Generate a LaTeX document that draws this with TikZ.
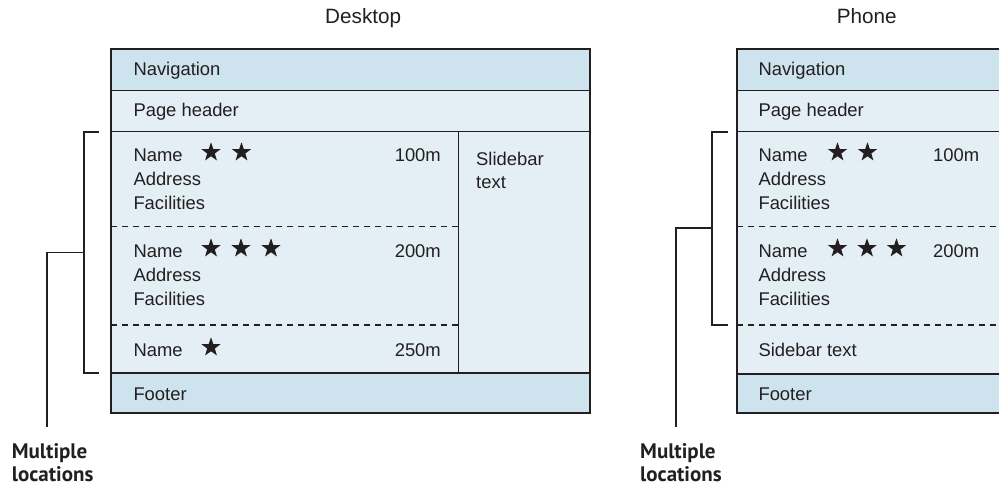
\documentclass[tikz,border=0pt]{standalone}
\usepackage{fontspec}
\setmainfont{Liberation Sans}
\newfontfamily\calloutfont{PT Sans}
\usetikzlibrary{shapes.geometric}
\definecolor{navblue}{RGB}{205,227,238}
\definecolor{bodyblue}{RGB}{227,238,245}
\definecolor{ink}{RGB}{35,31,32}
\begin{document}
\begin{tikzpicture}[x=1pt,y=-1pt,
  txt/.style={anchor=base west, inner sep=0pt, text=ink, font=\fontsize{18.4}{22}\selectfont},
  dist/.style={anchor=base east, inner sep=0pt, text=ink, font=\fontsize{18.4}{22}\selectfont},
  title/.style={anchor=base west, inner sep=0pt, text=ink, font=\fontsize{20.7}{24}\selectfont},
  callout/.style={anchor=base west, inner sep=0pt, text=ink, font=\calloutfont\bfseries\fontsize{21}{24}\selectfont},
  ratingstar/.style={star, star points=5, star point ratio=2.5, minimum size=20pt, inner sep=0pt, fill=ink, draw=none},
  outer/.style={draw=ink, line width=2pt},
  divider/.style={draw=ink, line width=1.3pt},
  dashdiv/.style={draw=ink, line width=1.3pt, dash pattern=on 6pt off 5pt},
  bracket/.style={draw=ink, line width=1.7pt},
]
\clip (0,0) rectangle (999,487);
\fill[white] (0,0) rectangle (999,487);

% ---------------- Desktop ----------------
\fill[navblue] (111,49) rectangle (590,90.5);
\fill[bodyblue] (111,90.5) rectangle (590,373.3);
\fill[navblue] (111,373.3) rectangle (590,412.5);
\draw[divider] (111,90.5) -- (590,90.5);
\draw[divider] (111,131.7) -- (590,131.7);
\draw[outer] (111,373.3) -- (590,373.3);
\draw[divider] (458.7,131.7) -- (458.7,373.3);
\draw[dashdiv] (111,226.7) -- (458.7,226.7);
\draw[dashdiv] (111,325) -- (458.7,325);
\draw[outer] (111,49) rectangle (590,412.5);

\node[title] (dtitle) at (325,24) {Desktop};
\node[txt] (dnav) at (133.3,75.7) {Navigation};
\node[txt] (dhead) at (133.3,117) {Page header};

\node[txt] (dn1) at (133.3,161.7) {Name};
\node[txt] (da1) at (133.3,185.4) {Address};
\node[txt] (df1) at (133.3,209.1) {Facilities};
\node[dist] (dd1) at (441,161.7) {100m};
\node[ratingstar] (ds11) at (211,152.3) {};
\node[ratingstar] (ds12) at (241.5,152.3) {};

\node[txt] (dn2) at (133.3,257.7) {Name};
\node[txt] (da2) at (133.3,281.4) {Address};
\node[txt] (df2) at (133.3,305.1) {Facilities};
\node[dist] (dd2) at (441,257.7) {200m};
\node[ratingstar] (ds21) at (211,248.3) {};
\node[ratingstar] (ds22) at (241,248.3) {};
\node[ratingstar] (ds23) at (271,248.3) {};

\node[txt] (dn3) at (133.3,356.7) {Name};
\node[dist] (dd3) at (441,356.7) {250m};
\node[ratingstar] (ds31) at (211,347.3) {};

\node[txt] (dside1) at (476,165.5) {Slidebar};
\node[txt] (dside2) at (476,188) {text};

\node[txt] (dfoot) at (133.3,400) {Footer};

\coordinate (dbt) at (99.3,131.7);
\coordinate (dbtc) at (84,131.7);
\coordinate (dbbc) at (84,373.3);
\coordinate (dbb) at (99.3,373.3);
\coordinate (dbm) at (84,252.5);
\coordinate (dbml) at (47.3,252.5);
\coordinate (dbend) at (47.3,426.7);
\draw[bracket] (dbt) -- (dbtc) -- (dbbc) -- (dbb);
\draw[bracket] (dbm) -- (dbml) -- (dbend);
\node[callout] (dml1) at (11.7,458.3) {Multiple};
\node[callout] (dml2) at (11.7,481.7) {locations};

% ---------------- Phone ----------------
\fill[navblue] (736.7,49) rectangle (1010,90.5);
\fill[bodyblue] (736.7,90.5) rectangle (1010,373.8);
\fill[navblue] (736.7,373.8) rectangle (1010,413);
\draw[divider] (736.7,90.5) -- (1010,90.5);
\draw[divider] (736.7,131.7) -- (1010,131.7);
\draw[outer] (736.7,373.8) -- (1010,373.8);
\draw[dashdiv] (736.7,226.7) -- (1010,226.7);
\draw[dashdiv] (736.7,325) -- (1010,325);
\draw[outer] (736.7,49) rectangle (1010,413);

\node[title] (ptitle) at (836.7,24) {Phone};
\node[txt] (pnav) at (758.3,75.7) {Navigation};
\node[txt] (phead) at (758.3,117) {Page header};

\node[txt] (pn1) at (758.3,161.7) {Name};
\node[txt] (pa1) at (758.3,185.4) {Address};
\node[txt] (pf1) at (758.3,209.1) {Facilities};
\node[dist] (pd1) at (979.3,161.7) {100m};
\node[ratingstar] (ps11) at (837.5,152.3) {};
\node[ratingstar] (ps12) at (867.5,152.3) {};

\node[txt] (pn2) at (758.3,257.7) {Name};
\node[txt] (pa2) at (758.3,281.4) {Address};
\node[txt] (pf2) at (758.3,305.1) {Facilities};
\node[dist] (pd2) at (979.3,257.7) {200m};
\node[ratingstar] (ps21) at (837.5,248.3) {};
\node[ratingstar] (ps22) at (867,248.3) {};
\node[ratingstar] (ps23) at (896.5,248.3) {};

\node[txt] (pside) at (758.3,356.2) {Sidebar text};
\node[txt] (pfoot) at (758.3,400) {Footer};

\coordinate (pbt) at (727.7,131.7);
\coordinate (pbtc) at (712.3,131.7);
\coordinate (pbbc) at (712.3,325);
\coordinate (pbb) at (727.7,325);
\coordinate (pbm) at (712.3,228.3);
\coordinate (pbml) at (676,228.3);
\coordinate (pbend) at (676,426.7);
\draw[bracket] (pbt) -- (pbtc) -- (pbbc) -- (pbb);
\draw[bracket] (pbm) -- (pbml) -- (pbend);
\node[callout] (pml1) at (640,458.3) {Multiple};
\node[callout] (pml2) at (640,481.7) {locations};
\end{tikzpicture}
\end{document}
